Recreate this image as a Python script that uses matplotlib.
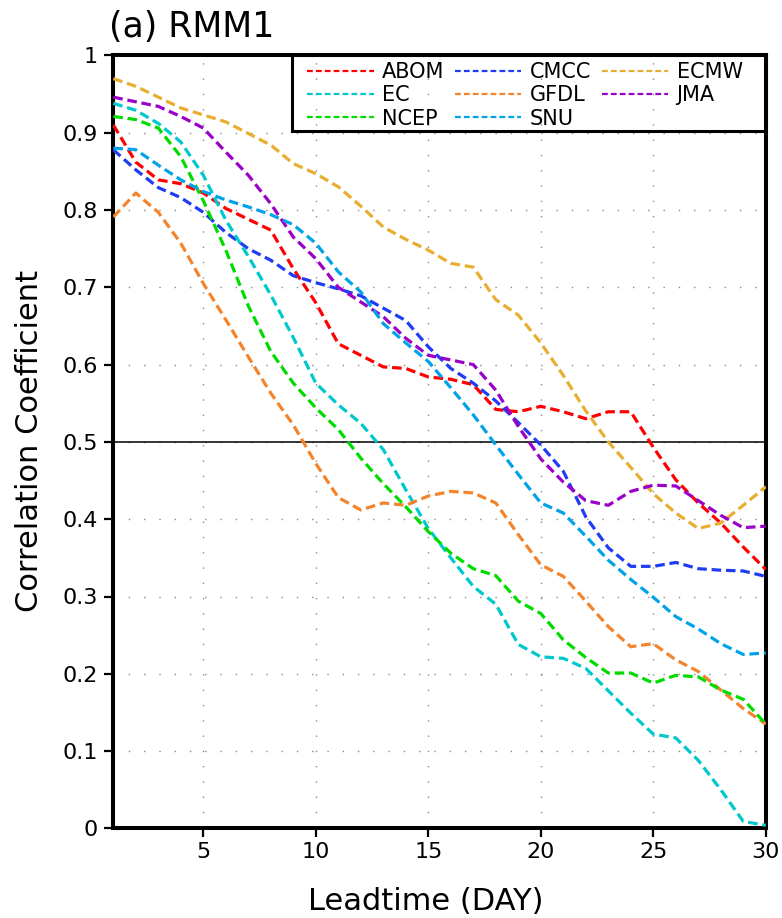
import matplotlib
matplotlib.use("Agg")
import matplotlib.pyplot as plt
from matplotlib.lines import Line2D
from matplotlib.patches import Rectangle

# Lead time in days
days = list(range(1, 31))

# RMM1 correlation coefficient of each model against lead time
abom = [0.910, 0.862, 0.839, 0.834, 0.822, 0.802, 0.788, 0.774, 0.724, 0.680,
        0.627, 0.612, 0.597, 0.595, 0.584, 0.581, 0.574, 0.542, 0.539, 0.546,
        0.539, 0.530, 0.539, 0.539, 0.493, 0.451, 0.421, 0.395, 0.364, 0.335]
cmcc = [0.878, 0.852, 0.829, 0.816, 0.797, 0.771, 0.750, 0.735, 0.715, 0.706,
        0.698, 0.689, 0.673, 0.657, 0.623, 0.595, 0.576, 0.553, 0.525, 0.496,
        0.462, 0.403, 0.363, 0.339, 0.339, 0.344, 0.336, 0.334, 0.333, 0.326]
ecmw = [0.970, 0.960, 0.946, 0.932, 0.923, 0.914, 0.899, 0.884, 0.860, 0.847,
        0.830, 0.805, 0.778, 0.762, 0.748, 0.731, 0.726, 0.684, 0.664, 0.628,
        0.586, 0.540, 0.500, 0.467, 0.433, 0.408, 0.388, 0.395, 0.418, 0.442]
ec = [0.938, 0.929, 0.912, 0.888, 0.845, 0.787, 0.740, 0.690, 0.635, 0.576,
      0.548, 0.524, 0.490, 0.438, 0.388, 0.350, 0.313, 0.290, 0.238, 0.222,
      0.220, 0.207, 0.178, 0.149, 0.122, 0.117, 0.088, 0.050, 0.009, 0.004]
gfdl = [0.791, 0.822, 0.797, 0.757, 0.705, 0.658, 0.610, 0.563, 0.522, 0.472,
        0.428, 0.412, 0.421, 0.418, 0.430, 0.436, 0.434, 0.421, 0.380, 0.341,
        0.326, 0.294, 0.261, 0.235, 0.239, 0.218, 0.203, 0.179, 0.155, 0.135]
jma = [0.946, 0.940, 0.934, 0.921, 0.906, 0.875, 0.845, 0.808, 0.765, 0.737,
       0.700, 0.681, 0.662, 0.634, 0.612, 0.606, 0.600, 0.567, 0.520, 0.478,
       0.448, 0.424, 0.418, 0.436, 0.444, 0.443, 0.424, 0.405, 0.389, 0.391]
ncep = [0.921, 0.917, 0.906, 0.869, 0.812, 0.748, 0.676, 0.617, 0.576, 0.544,
        0.516, 0.479, 0.446, 0.416, 0.384, 0.356, 0.336, 0.327, 0.294, 0.278,
        0.244, 0.221, 0.201, 0.201, 0.188, 0.198, 0.196, 0.179, 0.167, 0.135]
snu = [0.880, 0.878, 0.858, 0.839, 0.824, 0.813, 0.804, 0.794, 0.781, 0.757,
       0.720, 0.694, 0.653, 0.628, 0.604, 0.570, 0.535, 0.496, 0.458, 0.421,
       0.408, 0.378, 0.347, 0.322, 0.299, 0.274, 0.258, 0.239, 0.225, 0.227]

model_names = ["ABOM", "CMCC", "ECMW", "EC", "GFDL", "JMA", "NCEP", "SNU"]
model_values = [abom, cmcc, ecmw, ec, gfdl, jma, ncep, snu]
model_colors = ["#ff0000", "#1f3cf5", "#e8ae30", "#00c8cc", "#f3842c",
                "#9a00c8", "#00dc00", "#00a2e8"]

x_ticks = [5, 10, 15, 20, 25, 30]
y_ticks = [0, 0.1, 0.2, 0.3, 0.4, 0.5, 0.6, 0.7, 0.8, 0.9, 1]
y_tick_labels = ["0", "0.1", "0.2", "0.3", "0.4", "0.5", "0.6", "0.7",
                 "0.8", "0.9", "1"]

plt.rcParams["font.family"] = ["DejaVu Sans"]

W, H = 782, 918
AX_L, AX_R, AX_T, AX_B = 113.3, 765.8, 55.4, 828.4
fig = plt.figure(figsize=(W / 100, H / 100), dpi=100)
ax = fig.add_axes([AX_L / W, 1 - AX_B / H, (AX_R - AX_L) / W,
                   (AX_B - AX_T) / H])


def ax_x(px):
    return (px - AX_L) / (AX_R - AX_L)


def ax_y(py):
    return (AX_B - py) / (AX_B - AX_T)


for name, vals, col in zip(model_names, model_values, model_colors):
    ax.plot(days, vals, color=col, lw=2.3, ls=(0, (3.0, 1.5)), zorder=3)

ax.axhline(0.5, color="black", lw=1.1, zorder=2)

ax.set_xlim(1, 30)
ax.set_ylim(0, 1)
ax.set_xticks(x_ticks)
ax.set_yticks(y_ticks)
ax.set_yticklabels(y_tick_labels)
ax.grid(True, color="#8a8a8a", lw=1.0, ls=(0, (1, 10)), zorder=1)

for sp in ax.spines.values():
    sp.set_linewidth(2.9)
ax.tick_params(axis="both", direction="out", length=6.5, width=1.6,
               labelsize=16)
ax.tick_params(axis="x", pad=3.5)
ax.tick_params(axis="y", pad=4.5)

# Legend: three columns filled column by column, inside a plain box
order = ["ABOM", "EC", "NCEP", "CMCC", "GFDL", "SNU", "ECMW", "JMA"]
handles = []
for name in order:
    col = model_colors[model_names.index(name)]
    handles.append(Line2D([], [], color=col, lw=1.6, ls=(0, (2.6, 1.4)),
                          label=name))
leg = ax.legend(handles=handles, ncol=3, loc="upper left",
                bbox_to_anchor=(ax_x(307), ax_y(62.0)),
                borderaxespad=0.0, borderpad=0.0, fontsize=15,
                handlelength=3.2, handletextpad=0.4, columnspacing=0.5,
                labelspacing=0.16, frameon=False)
leg.set_zorder(5)
box_x0, box_y0 = ax_x(292), ax_y(131)
ax.add_patch(Rectangle((box_x0, box_y0), 1 - box_x0, 1 - box_y0,
                       transform=ax.transAxes, fill=False, lw=2.2,
                       ec="black", zorder=5, clip_on=False))

fig.text(109 / W, 1 - 37 / H, "(a) RMM1", fontsize=25, ha="left",
         va="baseline")
fig.text(426 / W, 1 - 910 / H, "Leadtime (DAY)", fontsize=22, ha="center",
         va="baseline")
fig.text(30 / W, 1 - 441 / H, "Correlation Coefficient", fontsize=22,
         rotation=90, ha="center", va="center")

fig.savefig("out.png", dpi=100)
